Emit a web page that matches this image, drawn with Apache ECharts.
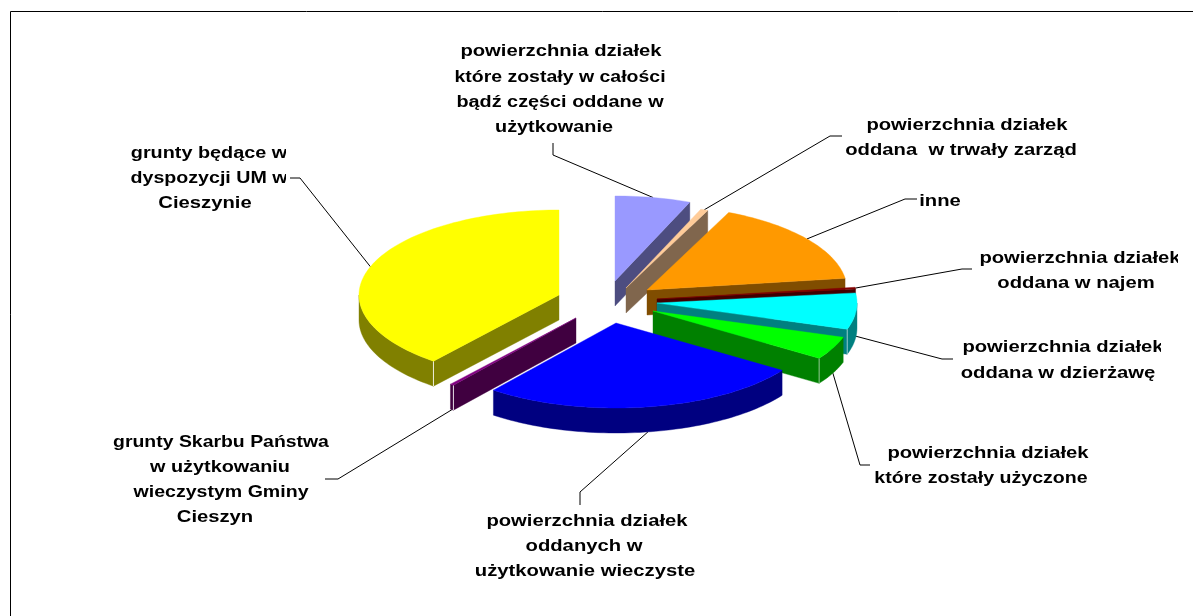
<!DOCTYPE html>
<html><head><meta charset="utf-8">
<style>html,body{margin:0;padding:0;background:#fff}#c{width:1193px;height:616px}</style>
<script src="https://cdn.jsdelivr.net/npm/echarts@6/dist/echarts.min.js"></script>
</head><body><div id="c"></div>
<script>
// Shares (per mille of the whole, clockwise from 12 o'clock)
const categories = [
  'użytkowanie','trwały zarząd','inne','najem','dzierżawa','użyczone','użytkowanie wieczyste','Skarb Państwa','dyspozycja UM'
];
const shares = [61, 6, 161, 3, 69, 44, 261, 3, 392];
const labelLines = [
  ['powierzchnia działek','które zostały w całości','bądź części oddane w','użytkowanie'],
  ['powierzchnia działek','oddana  w trwały zarząd'],
  ['inne'],
  ['powierzchnia działek','oddana w najem'],
  ['powierzchnia działek','oddana w dzierżawę'],
  ['powierzchnia działek','które zostały użyczone'],
  ['powierzchnia działek','oddanych w','użytkowanie wieczyste'],
  ['grunty Skarbu Państwa','w użytkowaniu','wieczystym Gminy','Cieszyn'],
  ['grunty będące w','dyspozycji UM w','Cieszynie']
];

// Styling and layout
const topColors  = ['#9999FF','#FFCC99','#FF9900','#800000','#00FFFF','#00FF00','#0000FF','#800080','#FFFF00'];
const sideColors = ['#4D4D80','#80664D','#804D00','#400000','#008080','#008000','#000080','#400040','#808000'];
const centers = [[615,281],[626,288],[647,290],[657,299],[657,303],[653,311],[616,323],[576,318],[559,295]];
const RX = 200, RY = 85, DEPTH = 25;
const labelPos = [
  [[561,51],[560,77],[560,102],[554,127]],
  [[967,125],[961,150]],
  [[940,201]],
  [[1080,258],[1076,283]],
  [[1063,347],[1058,373]],
  [[988,453],[981,478]],
  [[587,521],[584,546],[585,571]],
  [[221,442],[220,467],[221,492],[215,517]],
  [[209,153],[209,178],[205,203]]
];
const labelStretch = [
  [1,.963,.98,.98],
  [1,1],
  [1],
  [1,1],
  [1,1],
  [1,.968],
  [1,1,1],
  [.96,.98,.967,1],
  [.98,.97,1]
];
const labelClipRight = [666,null,null,1178,1161,null,null,null,286];
const elbows = [
  [[553,155],[553,143]],
  [[830,136],[842,136]],
  [[905,199],[917,199]],
  [[962,269],[972,269]],
  [[942,359],[953,359]],
  [[860,465],[870,465]],
  [[580,492],[580,505]],
  [[338,479],[325,479]],
  [[300,178],[290,178]]
];
const FONT = 'bold 17px "Liberation Sans", Arial, sans-serif';
const STRETCH = 1.19;

const total = shares.reduce((a,b)=>a+b,0);
let acc = 0;
const spans = shares.map(v=>{const s=acc/total*360; acc+=v; return [s,acc/total*360];});
const rad = d=>d*Math.PI/180;
const rim = (c,t,dz)=>[c[0]+RX*Math.sin(rad(t)), c[1]-RY*Math.cos(rad(t))+(dz||0)];

function arcPts(c,a,b,dz){
  const pts=[]; const n=Math.max(1,Math.ceil(Math.abs(b-a)/1.5));
  for(let i=0;i<=n;i++) pts.push(rim(c,a+(b-a)*i/n,dz));
  return pts;
}
const poly=(points,fill)=>({type:'polygon',shape:{points},style:{fill,stroke:fill,lineWidth:0.4}});
const seg=(a,b,stroke,w)=>({type:'line',shape:{x1:a[0],y1:a[1],x2:b[0],y2:b[1]},style:{stroke,lineWidth:w||1}});

function renderItem(params){
  const i=params.dataIndex, c=centers[i], [t0,t1]=spans[i], top=topColors[i], side=sideColors[i];
  const kids=[];
  const mid=(t0+t1)/2;
  // Leader line, starting on the rim at the slice's mid angle
  const s=rim(c,mid,(mid>90&&mid<270)?DEPTH:0);
  kids.push({type:'polyline',shape:{points:[s].concat(elbows[i])},style:{fill:null,stroke:'#000',lineWidth:1}});
  // Cut faces that face the viewer
  const c2=[c[0],c[1]+DEPTH];
  if(Math.sin(rad(t0))<-1e-6){ const a=rim(c,t0), b=rim(c,t0,DEPTH); kids.push(poly([c,a,b,c2],side)); }
  if(Math.sin(rad(t1))>1e-6){ const a=rim(c,t1), b=rim(c,t1,DEPTH); kids.push(poly([c,a,b,c2],side)); }
  // Outer wall
  const w0=Math.max(t0,90), w1=Math.min(t1,270);
  if(w1>w0){
    kids.push(poly(arcPts(c,w0,w1,0).concat(arcPts(c,w1,w0,DEPTH)),side));
    if(t1<=180) kids.push(seg(rim(c,t1),rim(c,t1,DEPTH),'rgba(255,255,255,0.55)',1));
    if(t0>=180) kids.push(seg(rim(c,t0),rim(c,t0,DEPTH),'rgba(255,255,255,0.85)',1));
  }
  // Top face
  kids.push(poly([c].concat(arcPts(c,t0,t1,0)),top));
  // Label
  const texts=labelLines[i].map((tx,k)=>({
    type:'text',x:labelPos[i][k][0],y:labelPos[i][k][1],scaleX:STRETCH*labelStretch[i][k],
    style:{text:tx,x:0,y:0,font:FONT,fill:'#000',align:'center',verticalAlign:'middle'}
  }));
  const lab={type:'group',children:texts};
  if(labelClipRight[i]) lab.clipPath={type:'rect',shape:{x:0,y:0,width:labelClipRight[i],height:616}};
  kids.push(lab);
  return {type:'group',children:kids};
}

const chart=echarts.init(document.getElementById('c'),null,{renderer:'canvas'});
chart.setOption({
  animation:false,
  backgroundColor:'#fff',
  graphic:[{type:'rect',silent:true,z:0,shape:{x:10.5,y:11.5,width:1400,height:900},style:{fill:'#fff',stroke:'#000',lineWidth:1}}],
  series:[{
    type:'custom',coordinateSystem:'none',silent:true,clip:false,z:5,
    data:categories.map((n,i)=>({name:n,value:[shares[i]]})),
    renderItem
  }]
});
</script></body></html>
